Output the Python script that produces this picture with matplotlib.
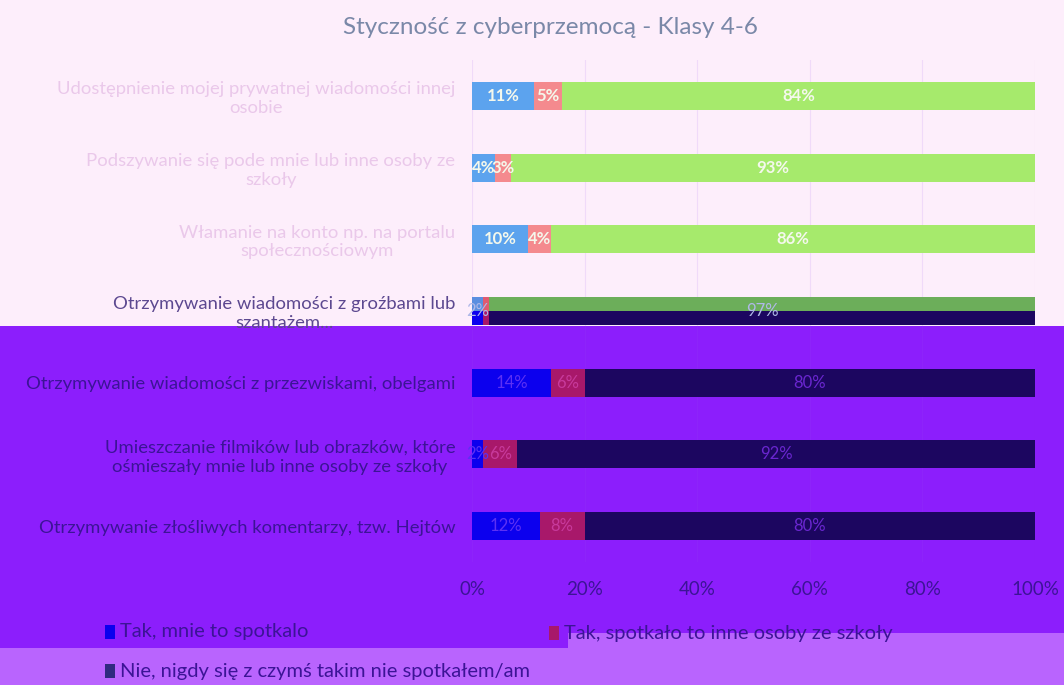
import matplotlib
matplotlib.use("Agg")
import matplotlib.pyplot as plt
from matplotlib.patches import Rectangle, Polygon
import numpy as np

plt.rcParams['font.family'] = ['Lato', 'DejaVu Sans']

categories = [
    "Udostępnienie mojej prywatnej wiadomości innej\nosobie",
    "Podszywanie się pode mnie lub inne osoby ze\nszkoły",
    "Włamanie na konto np. na portalu\nspołecznościowym",
    "Otrzymywanie wiadomości z groźbami lub\nszantażem...",
    "Otrzymywanie wiadomości z przezwiskami, obelgami",
    "Umieszczanie filmików lub obrazków, które\nośmieszały mnie lub inne osoby ze szkoły",
    "Otrzymywanie złośliwych komentarzy, tzw. Hejtów",
]
tak_mnie = [11, 4, 10, 2, 14, 2, 12]
tak_inne = [5, 3, 4, 1, 6, 6, 8]
nie_nigdy = [84, 93, 86, 97, 80, 92, 80]

series_names = ["Tak, mnie to spotkalo",
                "Tak, spotkało to inne osoby ze szkoły",
                "Nie, nigdy się z czymś takim nie spotkałem/am"]

# glitched screenshot: upper rows washed out, lower rows in dark tones
light_colors = ["#5ca3ee", "#f48a8e", "#a6ea6c"]
dark_colors = ["#0c00ee", "#a8186a", "#1c0660"]
row4_top = ["#5a8ee0", "#e05a70", "#6cae5a"]
light_text = "#f4f8ec"

fig = plt.figure(figsize=(10.64, 6.85), dpi=100)
fig.patch.set_facecolor("#fdeefb")
split = 1 - 326 / 685
fig.add_artist(Rectangle((0, 0), 1, split, transform=fig.transFigure,
                         facecolor="#8c1efc", edgecolor="none", zorder=0))
fig.add_artist(Polygon([(0, 0), (1, 0), (1, 1 - 633 / 685), (568 / 1064, 1 - 633 / 685),
                        (568 / 1064, 1 - 648 / 685), (0, 1 - 648 / 685)],
                       closed=True, transform=fig.transFigure,
                       facecolor="#b964fe", edgecolor="none", zorder=0))

ax = fig.add_axes([472 / 1064, 1 - 562 / 685, 563 / 1064, 502 / 685])
ax.patch.set_alpha(0)

data = np.array([tak_mnie, tak_inne, nie_nigdy], dtype=float)
y = np.arange(len(categories))
h = 0.39
dark_text = ["#5c30f4", "#c83a9c", "#6a26d0"]
for i in range(len(categories)):
    left = 0
    for s in range(3):
        v = data[s, i] / 100
        if i < 3:
            ax.barh(i, v, left=left, height=h, color=light_colors[s], zorder=2)
            tc = light_text
        elif i == 3:
            ax.barh(i - h / 4, v, left=left, height=h / 2, color=row4_top[s], zorder=2)
            ax.barh(i + h / 4, v, left=left, height=h / 2, color=dark_colors[s], zorder=2)
            tc = "#b0b8e8"
        else:
            ax.barh(i, v, left=left, height=h, color=dark_colors[s], zorder=2)
            tc = dark_text[s]
        if data[s, i] >= 2:
            ax.text(left + v / 2, i, f"{int(data[s, i])}%", ha="center", va="center",
                    fontsize=12, color=tc, fontweight="bold" if i < 3 else "normal", zorder=3)
        left += v

ax.set_xlim(0, 1)
ax.set_ylim(len(categories) - 0.5, -0.5)
ax.set_xticks(np.linspace(0, 1, 6))
ax.set_xticklabels([f"{int(t)}%" for t in np.linspace(0, 100, 6)],
                   fontsize=13.5, color="#3c1496")
ax.tick_params(axis="x", length=0, pad=14)
ax.tick_params(axis="y", length=0, pad=12)
ax.set_yticks(y)
ax.set_yticklabels(categories, fontsize=13.3, multialignment="center")
label_colors = ["#eac8ea", "#eac8ea", "#eac8ea", "#5c4890", "#3c1496", "#3c1496", "#3c1496"]
for lab, c in zip(ax.get_yticklabels(), label_colors):
    lab.set_color(c)
ax.grid(axis="x", color="#9a50f0", alpha=0.12, linewidth=0.8, zorder=1)
for sp in ax.spines.values():
    sp.set_visible(False)

fig.text(550 / 1064, 1 - 27 / 685, "Styczność z cyberprzemocą - Klasy 4-6",
         ha="center", va="center", fontsize=17.5, color="#7a88a8")

# legend
leg_pos = [(105, 632), (549, 633), (105, 671)]
leg_colors = ["#0c00ee", "#a8186a", "#302a80"]
for (px, py), name, c in zip(leg_pos, series_names, leg_colors):
    fig.add_artist(Rectangle((px / 1064, 1 - (py + 7) / 685), 10 / 1064, 14 / 685,
                             transform=fig.transFigure, facecolor=c, edgecolor="none"))
    fig.text((px + 15) / 1064, 1 - py / 685, name, ha="left", va="center",
             fontsize=14.5, color="#3c1496")

fig.savefig("out.png", dpi=100, facecolor=fig.get_facecolor())
